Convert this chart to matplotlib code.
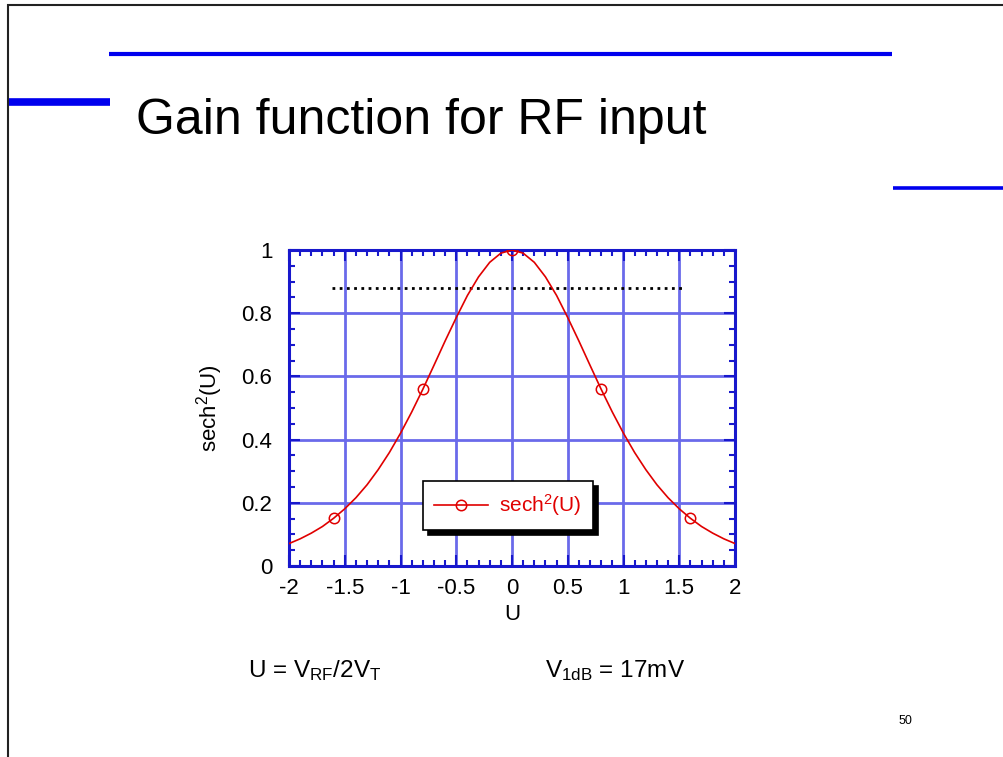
import matplotlib
matplotlib.use("Agg")
import matplotlib.pyplot as plt
from matplotlib.lines import Line2D
from matplotlib.ticker import MultipleLocator

plt.rcParams['font.family'] = ['Liberation Sans', 'DejaVu Sans']
plt.rcParams['mathtext.fontset'] = 'custom'
plt.rcParams['mathtext.rm'] = 'Liberation Sans'
plt.rcParams['mathtext.it'] = 'Liberation Sans'
plt.rcParams['mathtext.bf'] = 'Liberation Sans'

##### DATA #####

u_vals = [-2.0, -1.9, -1.8, -1.7, -1.6, -1.5, -1.4, -1.3, -1.2, -1.1,
          -1.0, -0.9, -0.8, -0.7, -0.6, -0.5, -0.4, -0.3, -0.2, -0.1,
          0.0, 0.1, 0.2, 0.3, 0.4, 0.5, 0.6, 0.7, 0.8, 0.9,
          1.0, 1.1, 1.2, 1.3, 1.4, 1.5, 1.6, 1.7, 1.8, 1.9, 2.0]
gain_vals = [0.071, 0.086, 0.104, 0.125, 0.151, 0.181, 0.216, 0.257, 0.305, 0.359,
             0.420, 0.487, 0.559, 0.635, 0.712, 0.786, 0.856, 0.915, 0.961, 0.990,
             1.000, 0.990, 0.961, 0.915, 0.856, 0.786, 0.712, 0.635, 0.559, 0.487,
             0.420, 0.359, 0.305, 0.257, 0.216, 0.181, 0.151, 0.125, 0.104, 0.086, 0.071]
marker_idx = [4, 12, 20, 28, 36]

level_1db = 0.88
level_x = [-1.61, 1.53]

x_ticks = [-2, -1.5, -1, -0.5, 0, 0.5, 1, 1.5, 2]
y_ticks = [0, 0.2, 0.4, 0.6, 0.8, 1]

##### FIGURE #####

fig = plt.figure(figsize=(10.04, 7.57), dpi=100)
W, H = 1004.0, 757.0

def px_line(x0, x1, y, lw, color):
    fig.add_artist(Line2D([x0 / W, x1 / W], [1 - y / H, 1 - y / H],
                          transform=fig.transFigure, color=color, lw=lw,
                          solid_capstyle='butt'))

def px_vline(x, y0, y1, lw, color):
    fig.add_artist(Line2D([x / W, x / W], [1 - y0 / H, 1 - y1 / H],
                          transform=fig.transFigure, color=color, lw=lw,
                          solid_capstyle='butt'))

# slide frame and decorations
px_line(7, 1004, 4.5, 1.5, '#222222')
px_vline(8.5, 4, 757, 1.5, '#222222')
px_line(109, 892, 54, 3.0, '#0000ee')
px_line(9, 110, 101.5, 5.5, '#0000ee')
px_line(893, 1004, 188, 2.6, '#0000ee')

fig.text(136 / W, 1 - 134 / H, 'Gain function for RF input', fontsize=36,
         ha='left', va='baseline')
fig.text(905 / W, 1 - 724 / H, '50', fontsize=9, ha='center', va='baseline')
fig.text(248 / W, 1 - 677 / H, r'U = V$_{RF}$/2V$_{T}$', fontsize=17.5,
         ha='left', va='baseline')
fig.text(545 / W, 1 - 677 / H, r'V$_{1dB}$ = 17mV', fontsize=17.5,
         ha='left', va='baseline')

# axes
ax = fig.add_axes([289 / W, 1 - 566 / H, (735 - 289) / W, (566 - 250) / H])
frame_col = '#1818cc'
grid_col = '#6a6aea'

ax.set_xlim(-2, 2)
ax.set_ylim(0, 1)
ax.set_xticks(x_ticks)
ax.set_xticklabels(['-2', '-1.5', '-1', '-0.5', '0', '0.5', '1', '1.5', '2'])
ax.set_yticks(y_ticks)
ax.set_yticklabels(['0', '0.2', '0.4', '0.6', '0.8', '1'])
ax.xaxis.set_minor_locator(MultipleLocator(0.1))
ax.yaxis.set_minor_locator(MultipleLocator(0.05))
ax.tick_params(which='both', direction='in', top=True, right=True,
               color=frame_col, width=1.5, labelsize=16)
ax.tick_params(axis='x', which='major', pad=9)
ax.tick_params(axis='y', which='major', pad=12)
ax.tick_params(which='major', length=8)
ax.tick_params(which='minor', length=4.5)
ax.grid(True, which='major', color=grid_col, lw=2.0)
for s in ax.spines.values():
    s.set_color(frame_col)
    s.set_linewidth(2.2)

ax.plot(level_x, [level_1db, level_1db], color='black', lw=2, ls=(0, (1, 1.6)),
        zorder=3)
ax.plot(u_vals, gain_vals, color='#e00000', lw=1.2, marker='o', markersize=7.5,
        markerfacecolor='none', markeredgewidth=1.1, markevery=marker_idx,
        label=r'sech$^{2}$(U)', zorder=4)

ax.set_xlabel('U', fontsize=16, labelpad=3)
ax.set_ylabel(r'sech$^{2}$(U)', fontsize=16, labelpad=12)

leg = ax.legend(loc='lower left', bbox_to_anchor=(0.30, 0.115), borderaxespad=0,
                numpoints=1, handlelength=2.6, fontsize=15, fancybox=False,
                edgecolor='black', framealpha=1,
                shadow={'color': 'black', 'alpha': 1, 'ox': 4, 'oy': -4},
                borderpad=0.55, handletextpad=0.5)
leg.get_frame().set_linewidth(1.2)
for t in leg.get_texts():
    t.set_color('#e00000')
leg.set_zorder(6)

fig.savefig('out.png', dpi=100, facecolor='white')
